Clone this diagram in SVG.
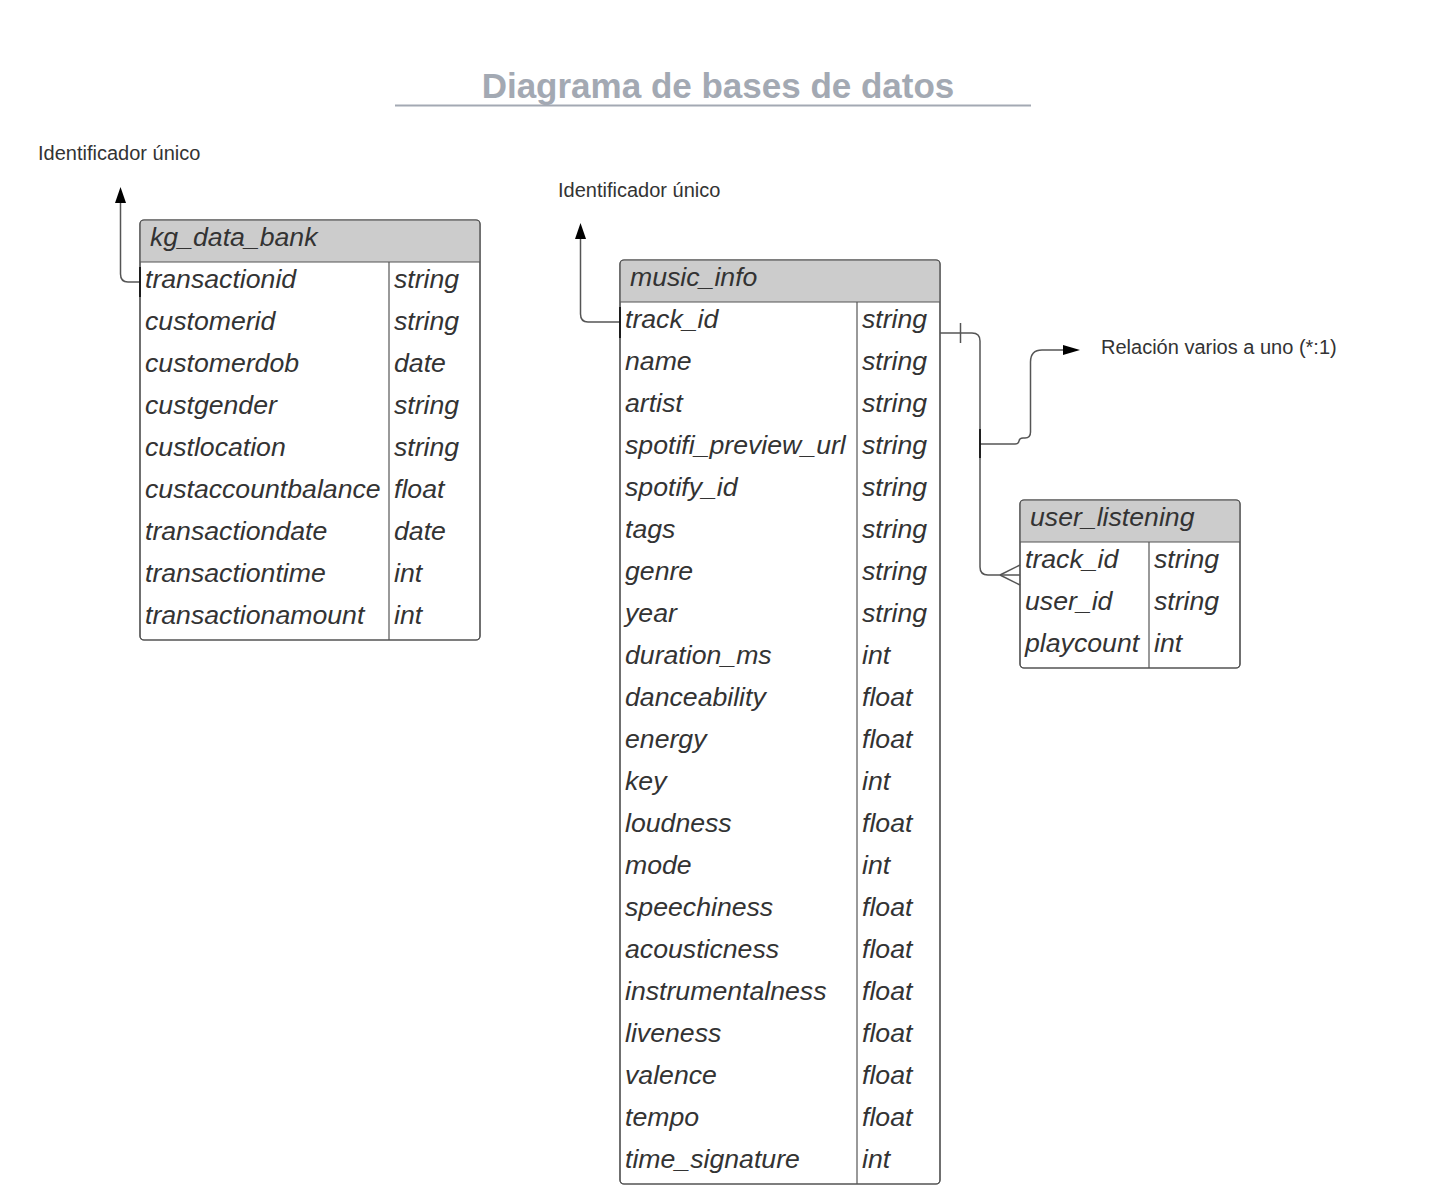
<svg xmlns="http://www.w3.org/2000/svg" width="1430" height="1201" viewBox="0 0 1430 1201">
<style>
.t{font-family:"Liberation Sans",Arial,sans-serif;font-style:italic;font-size:26.67px;fill:#333333}
.lbl{font-family:"Liberation Sans",Arial,sans-serif;font-size:20px;fill:#333333}
.box{fill:#ffffff;stroke:#555555;stroke-width:1.2}
.hdr{fill:#cccccc}
.ln{stroke:#555555;stroke-width:1.2;fill:none}
.c{stroke:#555555;stroke-width:1.5;fill:none}
.k{stroke:#000000;stroke-width:1.5;fill:none}
.ah{fill:#000000}
</style>
<rect width="1430" height="1201" fill="#ffffff"/>
<g id="title">
<text x="718" y="98" text-anchor="middle" style="font-family:'Liberation Sans',Arial,sans-serif;font-weight:bold;font-size:35px;fill:#a3a9b3">Diagrama de bases de datos</text>
<line x1="395" y1="105.5" x2="1031" y2="105.5" stroke="#a3a9b3" stroke-width="2"/>
</g>
<g id="labels">
<text class="lbl" x="38" y="160">Identificador único</text>
<text class="lbl" x="558" y="197">Identificador único</text>
<text class="lbl" x="1101" y="354">Relación varios a uno (*:1)</text>
</g>
<g id="kg_data_bank">
<rect class="box" x="140" y="220" width="340" height="420" rx="4"/>
<path class="hdr" d="M144,220.6 H476 Q479.4,220.6 479.4,224 V262 H140.6 V224 Q140.6,220.6 144,220.6 Z"/>
<line class="ln" x1="140" y1="262" x2="480" y2="262"/>
<line class="ln" x1="389" y1="262" x2="389" y2="640"/>
<rect x="140" y="220" width="340" height="420" rx="4" fill="none" stroke="#555555" stroke-width="1.2"/>
<text class="t" x="150" y="246">kg_data_bank</text>
<g class="t">
<text x="145" y="288">transactionid</text><text x="394" y="288">string</text>
<text x="145" y="330">customerid</text><text x="394" y="330">string</text>
<text x="145" y="372">customerdob</text><text x="394" y="372">date</text>
<text x="145" y="414">custgender</text><text x="394" y="414">string</text>
<text x="145" y="456">custlocation</text><text x="394" y="456">string</text>
<text x="145" y="498">custaccountbalance</text><text x="394" y="498">float</text>
<text x="145" y="540">transactiondate</text><text x="394" y="540">date</text>
<text x="145" y="582">transactiontime</text><text x="394" y="582">int</text>
<text x="145" y="624">transactionamount</text><text x="394" y="624">int</text>
</g>
</g>
<g id="music_info">
<rect class="box" x="620" y="260" width="320" height="924" rx="4"/>
<path class="hdr" d="M624,260.6 H936 Q939.4,260.6 939.4,264 V302 H620.6 V264 Q620.6,260.6 624,260.6 Z"/>
<line class="ln" x1="620" y1="302" x2="940" y2="302"/>
<line class="ln" x1="857" y1="302" x2="857" y2="1184"/>
<rect x="620" y="260" width="320" height="924" rx="4" fill="none" stroke="#555555" stroke-width="1.2"/>
<text class="t" x="630" y="286">music_info</text>
<g class="t">
<text x="625" y="328">track_id</text><text x="862" y="328">string</text>
<text x="625" y="370">name</text><text x="862" y="370">string</text>
<text x="625" y="412">artist</text><text x="862" y="412">string</text>
<text x="625" y="454">spotifi_preview_url</text><text x="862" y="454">string</text>
<text x="625" y="496">spotify_id</text><text x="862" y="496">string</text>
<text x="625" y="538">tags</text><text x="862" y="538">string</text>
<text x="625" y="580">genre</text><text x="862" y="580">string</text>
<text x="625" y="622">year</text><text x="862" y="622">string</text>
<text x="625" y="664">duration_ms</text><text x="862" y="664">int</text>
<text x="625" y="706">danceability</text><text x="862" y="706">float</text>
<text x="625" y="748">energy</text><text x="862" y="748">float</text>
<text x="625" y="790">key</text><text x="862" y="790">int</text>
<text x="625" y="832">loudness</text><text x="862" y="832">float</text>
<text x="625" y="874">mode</text><text x="862" y="874">int</text>
<text x="625" y="916">speechiness</text><text x="862" y="916">float</text>
<text x="625" y="958">acousticness</text><text x="862" y="958">float</text>
<text x="625" y="1000">instrumentalness</text><text x="862" y="1000">float</text>
<text x="625" y="1042">liveness</text><text x="862" y="1042">float</text>
<text x="625" y="1084">valence</text><text x="862" y="1084">float</text>
<text x="625" y="1126">tempo</text><text x="862" y="1126">float</text>
<text x="625" y="1168">time_signature</text><text x="862" y="1168">int</text>
</g>
</g>
<g id="user_listening">
<rect class="box" x="1020" y="500" width="220" height="168" rx="4"/>
<path class="hdr" d="M1024,500.6 H1236 Q1239.4,500.6 1239.4,504 V542 H1020.6 V504 Q1020.6,500.6 1024,500.6 Z"/>
<line class="ln" x1="1020" y1="542" x2="1240" y2="542"/>
<line class="ln" x1="1149" y1="542" x2="1149" y2="668"/>
<rect x="1020" y="500" width="220" height="168" rx="4" fill="none" stroke="#555555" stroke-width="1.2"/>
<text class="t" x="1030" y="526">user_listening</text>
<g class="t">
<text x="1025" y="568">track_id</text><text x="1154" y="568">string</text>
<text x="1025" y="610">user_id</text><text x="1154" y="610">string</text>
<text x="1025" y="652">playcount</text><text x="1154" y="652">int</text>
</g>
</g>
<g id="connectors">
<path class="c" d="M140,282 H128 Q120.5,282 120.5,274 V200"/>
<polygon class="ah" points="120.5,187 115,203 126,203"/>
<line class="k" x1="140" y1="267" x2="140" y2="297"/>
<path class="c" d="M620,322 H588 Q580.5,322 580.5,314 V236"/>
<polygon class="ah" points="580.5,223 575,239 586,239"/>
<line class="k" x1="620" y1="307" x2="620" y2="338"/>
<path class="c" d="M940,333 H972 Q980,333 980,341 V567 Q980,575 988,575 H1020"/>
<line class="c" x1="960.5" y1="323" x2="960.5" y2="343"/>
<line class="c" x1="1000" y1="575" x2="1020" y2="565"/>
<line class="c" x1="1000" y1="575" x2="1020" y2="585"/>
<path class="c" d="M980,444 H1015 Q1018.5,444 1019,441 Q1019.5,438 1023,438 H1025 Q1030.5,438 1030.5,432 V362 Q1030.5,350 1042,350 H1066"/>
<polygon class="ah" points="1080,350 1063,345 1063,355"/>
<line class="k" x1="980" y1="429" x2="980" y2="458"/>
</g>
</svg>
